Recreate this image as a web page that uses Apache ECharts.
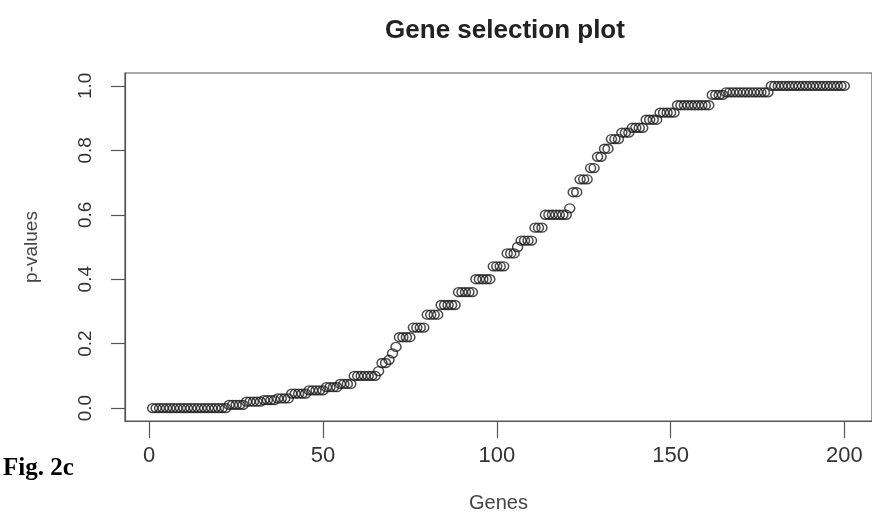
<!DOCTYPE html>
<html>
<head>
<meta charset="utf-8">
<style>
  html, body { margin: 0; padding: 0; background: #fff; }
  #chart { width: 872px; height: 518px; }
</style>
<script src="https://cdn.jsdelivr.net/npm/echarts@6/dist/echarts.min.js"></script>
</head>
<body>
<div id="chart"></div>
<script>
// sorted p-values, one per gene
const pValues = [
  0, 0, 0, 0, 0, 0, 0, 0, 0, 0, 0, 0, 0, 0, 0, 0, 0, 0, 0, 0, 0, 0,
  0.01, 0.01, 0.01, 0.01, 0.01,
  0.02, 0.02, 0.02, 0.02, 0.02,
  0.025, 0.025, 0.025, 0.025,
  0.03, 0.03, 0.03, 0.03,
  0.045, 0.045, 0.045, 0.045, 0.045,
  0.055, 0.055, 0.055, 0.055, 0.055,
  0.065, 0.065, 0.065, 0.065,
  0.075, 0.075, 0.075, 0.075,
  0.1, 0.1, 0.1, 0.1, 0.1, 0.1, 0.1,
  0.115, 0.14, 0.14, 0.15, 0.17, 0.19,
  0.22, 0.22, 0.22, 0.22,
  0.25, 0.25, 0.25, 0.25,
  0.29, 0.29, 0.29, 0.29,
  0.32, 0.32, 0.32, 0.32, 0.32,
  0.36, 0.36, 0.36, 0.36, 0.36,
  0.4, 0.4, 0.4, 0.4, 0.4,
  0.44, 0.44, 0.44, 0.44,
  0.48, 0.48, 0.48,
  0.5,
  0.52, 0.52, 0.52, 0.52,
  0.56, 0.56, 0.56,
  0.6, 0.6, 0.6, 0.6, 0.6, 0.6, 0.6,
  0.62, 0.67, 0.67,
  0.71, 0.71, 0.71,
  0.745, 0.745,
  0.78, 0.78,
  0.805, 0.805,
  0.835, 0.835, 0.835,
  0.855, 0.855, 0.855,
  0.87, 0.87, 0.87, 0.87,
  0.895, 0.895, 0.895, 0.895,
  0.917, 0.917, 0.917, 0.917, 0.917,
  0.94, 0.94, 0.94, 0.94, 0.94, 0.94, 0.94, 0.94, 0.94, 0.94,
  0.972, 0.972, 0.972, 0.972,
  0.98, 0.98, 0.98, 0.98, 0.98, 0.98, 0.98, 0.98, 0.98, 0.98, 0.98, 0.98, 0.98,
  1, 1, 1, 1, 1, 1, 1, 1, 1, 1, 1, 1, 1, 1, 1, 1, 1, 1, 1, 1, 1, 1
];
const xTicks = [0, 50, 100, 150, 200];
const yTicks = [0, 0.2, 0.4, 0.6, 0.8, 1.0];

const points = pValues.map((v, i) => [i + 1, v]);

// R pads the data range by 4% on each side
const xPad = (pValues.length - 1) * 0.04;
const yPad = 0.04;

const chart = echarts.init(document.getElementById("chart"));

const axisColor = "#555";
const labelFont = "Liberation Sans, Arial, sans-serif";

chart.setOption({
  backgroundColor: "#fff",
  animation: false,
  title: {
    text: "Gene selection plot",
    left: 500,
    top: 13,
    textAlign: "center",
    textStyle: {
      fontFamily: labelFont,
      fontWeight: "bold",
      fontSize: 26,
      color: "#222",
    },
  },
  grid: {
    left: 125,
    top: 73,
    width: 750,
    height: 349,
    show: true,
    borderColor: axisColor,
    borderWidth: 1.2,
    backgroundColor: "transparent",
  },
  xAxis: {
    type: "value",
    min: 1 - xPad,
    max: pValues.length + xPad,
    name: "Genes",
    nameLocation: "middle",
    nameGap: 72,
    nameTextStyle: { fontFamily: labelFont, fontSize: 20, color: "#444" },
    axisLine: { show: true, onZero: false, lineStyle: { color: axisColor, width: 1.2 } },
    axisTick: {
      show: true,
      length: 17,
      customValues: xTicks,
      lineStyle: { color: axisColor, width: 1.2 },
    },
    axisLabel: {
      customValues: xTicks,
      margin: 24,
      fontFamily: labelFont,
      fontSize: 22,
      color: "#333",
    },
    splitLine: { show: false },
  },
  yAxis: {
    type: "value",
    min: 0 - yPad,
    max: 1 + yPad,
    name: "p-values",
    nameLocation: "middle",
    nameGap: 84,
    nameRotate: 90,
    nameTextStyle: { fontFamily: labelFont, fontSize: 19, color: "#444" },
    axisLine: { show: true, onZero: false, lineStyle: { color: axisColor, width: 1.2 } },
    axisTick: {
      show: true,
      length: 14,
      customValues: yTicks,
      lineStyle: { color: axisColor, width: 1.2 },
    },
    axisLabel: {
      customValues: yTicks,
      rotate: 90,
      margin: 30,
      fontFamily: labelFont,
      fontSize: 19,
      color: "#333",
      formatter: (v) => v.toFixed(1),
    },
    splitLine: { show: false },
  },
  graphic: [
    {
      type: "text",
      left: 3,
      top: 456,
      style: {
        text: "Fig. 2c",
        fontFamily: "Liberation Serif, Times New Roman, serif",
        fontWeight: "bold",
        fontSize: 25,
        fill: "#000",
      },
    },
  ],
  series: [
    {
      type: "scatter",
      data: points,
      symbol: "circle",
      symbolSize: [10, 9],
      clip: false,
      itemStyle: {
        color: "rgba(0,0,0,0)",
        borderColor: "#1a1a1a",
        borderWidth: 1.4,
      },
    },
  ],
});
</script>
</body>
</html>
